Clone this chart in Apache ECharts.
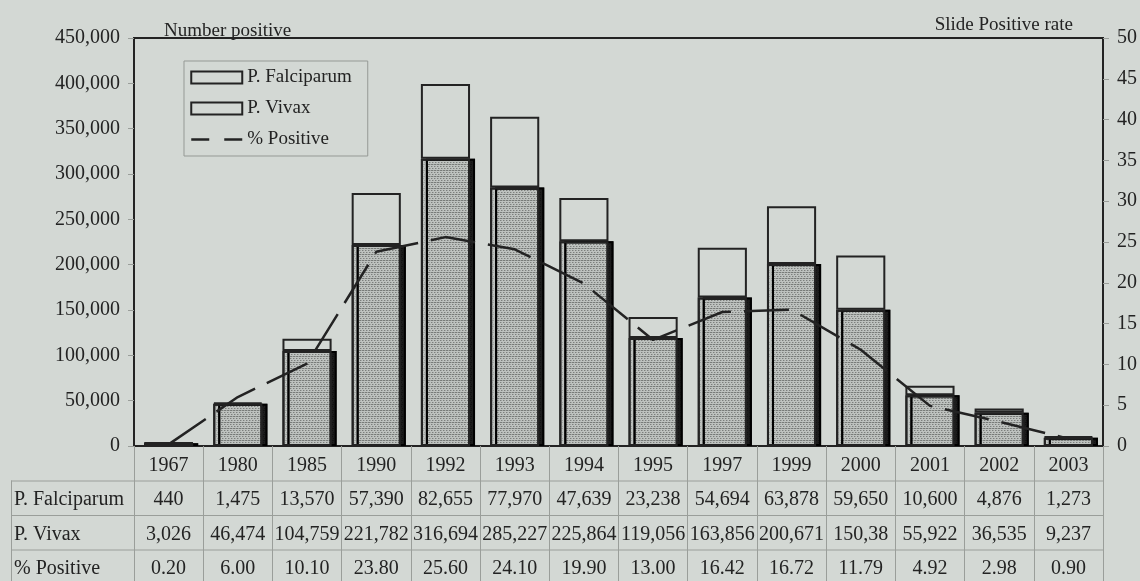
<!DOCTYPE html>
<html>
<head>
<meta charset="utf-8">
<script src="https://cdn.jsdelivr.net/npm/echarts@6/dist/echarts.min.js"></script>
<style>
  html, body { margin: 0; padding: 0; background: #d3d8d4; }
  #chart { width: 1140px; height: 581px; }
</style>
</head>
<body>
<div id="chart"></div>
<script>
// ---- data ----
const years = ['1967','1980','1985','1990','1992','1993','1994','1995','1997','1999','2000','2001','2002','2003'];
const falciparum = [440, 1475, 13570, 57390, 82655, 77970, 47639, 23238, 54694, 63878, 59650, 10600, 4876, 1273];
const vivax = [3026, 46474, 104759, 221782, 316694, 285227, 225864, 119056, 163856, 200671, 150380, 55922, 36535, 9237];
const pctPositive = [0.20, 6.00, 10.10, 23.80, 25.60, 24.10, 19.90, 13.00, 16.42, 16.72, 11.79, 4.92, 2.98, 0.90];
// table text exactly as printed in the source table
const falciparumText = ['440','1,475','13,570','57,390','82,655','77,970','47,639','23,238','54,694','63,878','59,650','10,600','4,876','1,273'];
const vivaxText = ['3,026','46,474','104,759','221,782','316,694','285,227','225,864','119,056','163,856','200,671','150,38','55,922','36,535','9,237'];
const rowLabels = ['P. Falciparum', 'P. Vivax', '% Positive'];
const leftTicks = { min: 0, max: 450000, interval: 50000 };
const rightTicks = { min: 0, max: 50, interval: 5 };

// ---- style / layout ----
const BG = '#d3d8d4';
const INK = '#232323';
const GRIDLINE = '#9a9e9a';
const FONT = '"Liberation Serif", "DejaVu Serif", serif';
const G = { left: 134, right: 37, top: 38, bottom: 135 };
const W = 1140, H = 581;
const axisY = H - G.bottom;          // 446
const rowH = 34.5;
const tableLeft = 11, tableRight = W - G.right;

const chart = echarts.init(document.getElementById('chart'), null, { renderer: 'canvas' });

const hLines = [1, 2, 3].map(k => ({
  type: 'line', z: 10, silent: true,
  shape: { x1: tableLeft, y1: axisY + rowH * k + 0.5, x2: tableRight, y2: axisY + rowH * k + 0.5 },
  style: { stroke: GRIDLINE, lineWidth: 1 }
}));
const rowTexts = rowLabels.map((t, k) => ({
  type: 'text', z: 10, silent: true,
  x: 14, y: axisY + rowH * (k + 1) + rowH / 2 + 2,
  style: { text: t, fill: INK, font: '20px ' + FONT, textVerticalAlign: 'middle', verticalAlign: 'middle' }
}));

const option = {
  backgroundColor: BG,
  animation: false,
  textStyle: { fontFamily: FONT, color: INK },
  title: [
    { text: 'Number positive', left: 159, top: 17,
      textStyle: { fontFamily: FONT, fontWeight: 'normal', fontSize: 19, color: INK } },
    { text: 'Slide Positive rate', right: 62, top: 11,
      textStyle: { fontFamily: FONT, fontWeight: 'normal', fontSize: 19, color: INK } }
  ],
  legend: {
    orient: 'vertical', left: 184, top: 61,
    backgroundColor: 'transparent',
    borderColor: '#959995', borderWidth: 1,
    padding: [7, 16, 7, 6],
    itemWidth: 51, itemHeight: 12, itemGap: 12,
    textStyle: { fontFamily: FONT, fontSize: 19, color: INK },
    data: [
      { name: 'P. Falciparum', icon: 'rect',
        itemStyle: { color: BG, borderColor: INK, borderWidth: 2, shadowColor: 'transparent', shadowOffsetX: 0, decal: 'none' } },
      { name: 'P. Vivax', icon: 'rect',
        itemStyle: { color: BG, borderColor: INK, borderWidth: 2, shadowColor: 'transparent', shadowOffsetX: 0, decal: 'none' } },
      { name: '% Positive', lineStyle: { type: [18, 15], width: 2.5, color: INK },
        itemStyle: { opacity: 0 } }
    ]
  },
  grid: { left: G.left, right: G.right, top: G.top, bottom: G.bottom,
          outerBoundsMode: 'none', containLabel: false,
          show: true, borderColor: INK, borderWidth: 2, backgroundColor: 'transparent' },
  xAxis: {
    type: 'category', data: years,
    axisLine: { show: true, lineStyle: { color: INK, width: 2 } },
    axisTick: { show: true, interval: 0, length: H - axisY, lineStyle: { color: GRIDLINE, width: 1 } },
    axisLabel: {
      interval: 0, margin: 2,
      fontFamily: FONT, fontSize: 20, lineHeight: rowH, color: INK,
      formatter: (v, i) => [v, falciparumText[i], vivaxText[i], pctPositive[i].toFixed(2)].join('\n')
    },
    splitLine: { show: false }
  },
  yAxis: [
    { type: 'value', min: leftTicks.min, max: leftTicks.max, interval: leftTicks.interval,
      axisLine: { show: true, lineStyle: { color: INK, width: 2 } },
      axisTick: { show: true, length: 6, lineStyle: { color: GRIDLINE } },
      axisLabel: { margin: 14, fontFamily: FONT, fontSize: 20, color: INK,
                   formatter: v => v.toLocaleString('en-US') },
      splitLine: { show: false } },
    { type: 'value', min: rightTicks.min, max: rightTicks.max, interval: rightTicks.interval, position: 'right',
      axisLine: { show: true, lineStyle: { color: INK, width: 2 } },
      axisTick: { show: true, length: 6, lineStyle: { color: GRIDLINE } },
      axisLabel: { margin: 14, fontFamily: FONT, fontSize: 20, color: INK },
      splitLine: { show: false } }
  ],
  series: [
    { name: 'P. Vivax', type: 'bar', stack: 'cases', data: vivax, barWidth: '71%',
      itemStyle: { color: '#bec2bf', borderColor: INK, borderWidth: 2,
                   shadowColor: '#1c1c1c', shadowBlur: 0, shadowOffsetX: 5, shadowOffsetY: 0,
                   decal: { symbol: 'rect', symbolSize: 1, color: 'rgba(110,115,112,0.35)',
                            dashArrayX: [[1, 2], [0, 1, 1, 1], [2, 1]], dashArrayY: [1, 1] } } },
    { name: 'P. Falciparum', type: 'bar', stack: 'cases', data: falciparum, barWidth: '71%',
      itemStyle: { color: BG, borderColor: INK, borderWidth: 2 } },
    { name: '% Positive', type: 'line', yAxisIndex: 1, data: pctPositive, symbol: 'none', z: 5,
      itemStyle: { color: INK },
      lineStyle: { color: INK, width: 2.5, type: [45, 13] } }
  ],
  graphic: [
    ...hLines,
    { type: 'line', z: 10, silent: true,
      shape: { x1: tableLeft + 0.5, y1: axisY + rowH, x2: tableLeft + 0.5, y2: H },
      style: { stroke: GRIDLINE, lineWidth: 1 } },
    ...rowTexts
  ]
};
chart.setOption(option);
</script>
</body>
</html>
